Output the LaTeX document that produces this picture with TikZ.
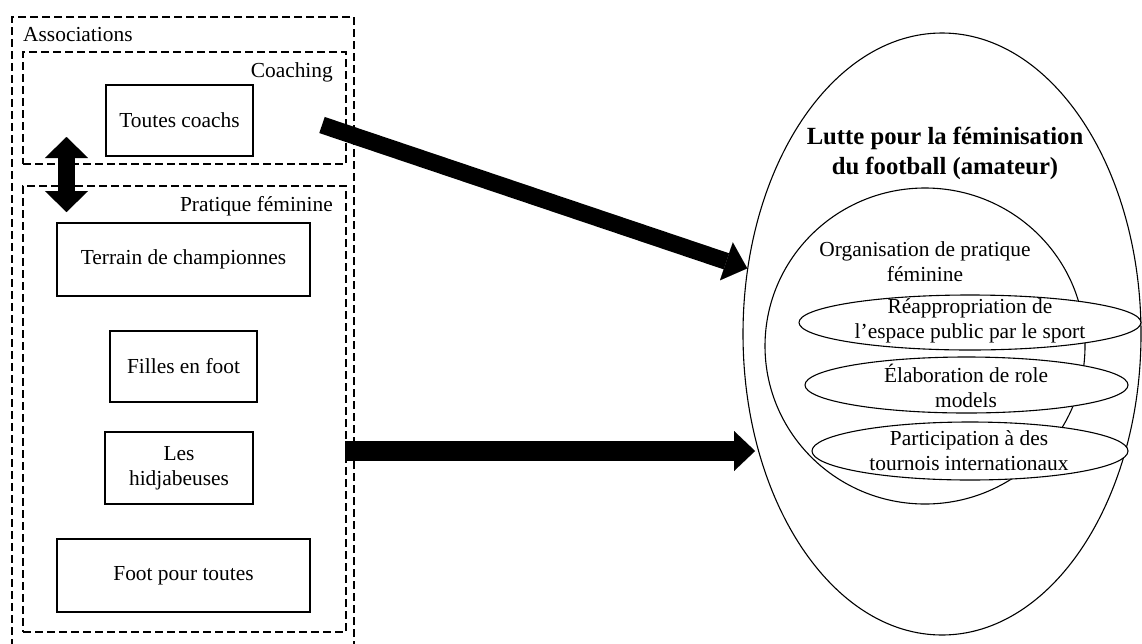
\documentclass[tikz,border=0pt]{standalone}
\usepackage{fontspec}
\setmainfont{Liberation Serif}
\usetikzlibrary{arrows.meta,shapes.geometric}
\begin{document}
\begin{tikzpicture}[x=1pt,y=-1pt,
  txt/.style={font=\fontsize{21.4}{25}\selectfont, align=center, inner sep=0pt},
  titletxt/.style={font=\fontsize{24.7}{30}\selectfont\bfseries, align=center, inner sep=0pt},
  solidbox/.style={draw, line width=1.3pt, inner sep=0pt, font=\fontsize{21.4}{25}\selectfont, align=center},
  dashbox/.style={draw, line width=1.1pt, dash pattern=on 8pt off 4pt, inner sep=0pt},
  ell/.style={draw, ellipse, line width=1.1pt, inner sep=0pt},
  smallell/.style={ell, fill=white},
  fatarrow/.style n args={3}{line width=#1, -{Triangle[width=#2,length=#3,line width=0.01pt]}},
  dblarrow/.style n args={3}{line width=#1, {Triangle[width=#2,length=#3,line width=0.01pt]}-{Triangle[width=#2,length=#3,line width=0.01pt]}}
]
\useasboundingbox (0,0) rectangle (1142,643);
\clip (0,0) rectangle (1142,643);

% left side: associations
\node[dashbox, minimum width=342pt, minimum height=638pt] (assoc) at (183,336) {};
\node[txt, anchor=west] (assoclbl) at (23,35) {Associations};

\node[dashbox, minimum width=323pt, minimum height=112pt] (coaching) at (184.5,108) {};
\node[txt, anchor=east] (coachlbl) at (333,72) {Coaching};
\node[solidbox, minimum width=147pt, minimum height=71pt] (toutes) at (179.5,120.5) {Toutes coachs};

\node[dashbox, minimum width=323pt, minimum height=446pt] (pratique) at (184.5,409) {};
\node[txt, anchor=east] (pratlbl) at (333,206) {Pratique féminine};
\node[solidbox, minimum width=253pt, minimum height=73pt] (terrain) at (183.5,259.5) {Terrain de championnes};
\node[solidbox, minimum width=147pt, minimum height=71pt] (filles) at (183.5,366.5) {Filles en foot};
\node[solidbox, minimum width=148pt, minimum height=72pt] (hidja) at (179,468) {Les\\hidjabeuses};
\node[solidbox, minimum width=253pt, minimum height=73pt] (foot) at (183.5,575.5) {Foot pour toutes};

% right side: ellipses
\node[ell, minimum width=398pt, minimum height=602pt] (big) at (942,334) {};
\node[titletxt] (title) at (945,153) {Lutte pour la féminisation\\du football (amateur)};
\node[ell, minimum width=320pt, minimum height=316pt] (orga) at (925,346) {};
\node[txt] (orgalbl) at (925,261.5) {Organisation de pratique\\féminine};

\node[smallell, minimum width=342pt, minimum height=55pt] (e1) at (970,322.5) {};
\node[txt] (e1lbl) at (970,320.5) {Réappropriation de\\l’espace public par le sport};
\node[smallell, minimum width=323pt, minimum height=56pt] (e2) at (966.5,385) {};
\node[txt] (e2lbl) at (966,385.5) {Élaboration de role\\models};
\node[smallell, minimum width=316pt, minimum height=58pt] (e3) at (970,451) {};
\node[txt] (e3lbl) at (969,450.5) {Participation à des\\tournois internationaux};

% arrows
\coordinate (dtail) at (322,125);
\draw[fatarrow={17pt}{40pt}{22pt}] (dtail) -- (big);
\coordinate (htail) at (345,451);
\coordinate (hhead) at (755,451);
\draw[fatarrow={20pt}{40pt}{21pt}] (htail) -- (hhead);
\coordinate (vtop) at (66.5,137);
\coordinate (vbot) at (66.5,212);
\draw[dblarrow={17pt}{43pt}{21pt}] (vtop) -- (vbot);
\end{tikzpicture}
\end{document}
